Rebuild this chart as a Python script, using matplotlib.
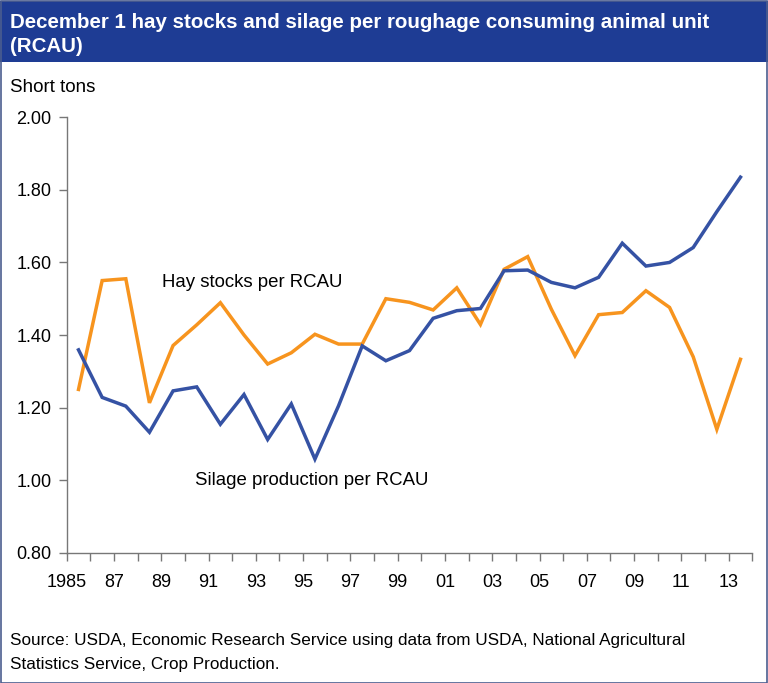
import numpy as np
import matplotlib.pyplot as plt
from matplotlib.patches import Rectangle

years = list(range(1985, 2014))
hay_stocks = [1.25, 1.55, 1.555, 1.213, 1.371, 1.428, 1.489, 1.40, 1.32, 1.351,
              1.402, 1.375, 1.375, 1.50, 1.49, 1.469, 1.530, 1.429, 1.581, 1.616,
              1.471, 1.343, 1.456, 1.462, 1.522, 1.476, 1.340, 1.140, 1.333]
silage = [1.359, 1.228, 1.204, 1.132, 1.246, 1.257, 1.154, 1.236, 1.112, 1.210,
          1.058, 1.205, 1.370, 1.329, 1.357, 1.446, 1.467, 1.473, 1.577, 1.579,
          1.545, 1.530, 1.559, 1.653, 1.590, 1.600, 1.641, 1.740, 1.835]
tick_labels = ["1985", "87", "89", "91", "93", "95", "97", "99",
               "01", "03", "05", "07", "09", "11", "13"]

ORANGE = "#F7941E"
BLUE = "#3552A4"
HEADER = "#1E3C94"

plt.rcParams["font.family"] = ["Liberation Sans", "DejaVu Sans"]

W, H = 768, 683
fig = plt.figure(figsize=(W / 100, H / 100), dpi=100)


def fx(px):
    return px / W


def fy(py):
    return 1 - py / H


# header bar and outer frame
fig.patches.append(Rectangle((0, fy(62)), 1, fy(1) - fy(62), transform=fig.transFigure,
                             facecolor=HEADER, edgecolor="none", zorder=0))
fig.patches.append(Rectangle((0.5 / W, 0.5 / H), 1 - 1.5 / W, 1 - 1.5 / H,
                             transform=fig.transFigure, facecolor="none",
                             edgecolor="#4B5D8F", linewidth=1.2, zorder=1))

fig.text(fx(10), fy(22), "December 1 hay stocks and silage per roughage consuming animal unit",
         color="white", fontsize=14.8, fontweight="bold", va="center", ha="left")
fig.text(fx(10), fy(46), "(RCAU)", color="white", fontsize=14.8,
         fontweight="bold", va="center", ha="left")
fig.text(fx(10), fy(88), "Short tons", fontsize=13.5, va="center", ha="left")

fig.text(fx(10), fy(641),
         "Source: USDA, Economic Research Service using data from USDA, National Agricultural",
         fontsize=12.3, va="center", ha="left")
fig.text(fx(10), fy(664), "Statistics Service, Crop Production.",
         fontsize=12.3, va="center", ha="left")

ax = fig.add_axes([fx(66.7), fy(552.7), fx(752.3) - fx(66.7), fy(117.3) - fy(552.7)])

x = np.arange(len(years)) + 0.5
ax.plot(x, hay_stocks, color=ORANGE, linewidth=2.5, solid_joinstyle="miter")
ax.plot(x, silage, color=BLUE, linewidth=2.5, solid_joinstyle="miter")

ax.text(4.03, 1.545, "Hay stocks per RCAU", fontsize=13.4, va="center", ha="left")
ax.text(5.43, 1.0, "Silage production per RCAU", fontsize=13.4, va="center", ha="left")

ax.set_xlim(0, 29)
ax.set_ylim(0.8, 2.0)
ax.set_xticks(np.arange(0, 30))
ax.set_xticklabels([tick_labels[i // 2] if i % 2 == 0 else "" for i in range(30)])
ax.set_yticks(np.arange(0.8, 2.01, 0.2))
ax.set_yticklabels([f"{v:.2f}" for v in np.arange(0.8, 2.01, 0.2)])

for side in ["top", "right"]:
    ax.spines[side].set_visible(False)
for side in ["left", "bottom"]:
    ax.spines[side].set_color("#777777")
    ax.spines[side].set_linewidth(1.0)
ax.tick_params(axis="both", colors="#777777", labelcolor="black", labelsize=13,
               length=6, width=1.0)
ax.tick_params(axis="x", pad=9)
ax.tick_params(axis="y", pad=5)

fig.savefig("out.png", dpi=100)
